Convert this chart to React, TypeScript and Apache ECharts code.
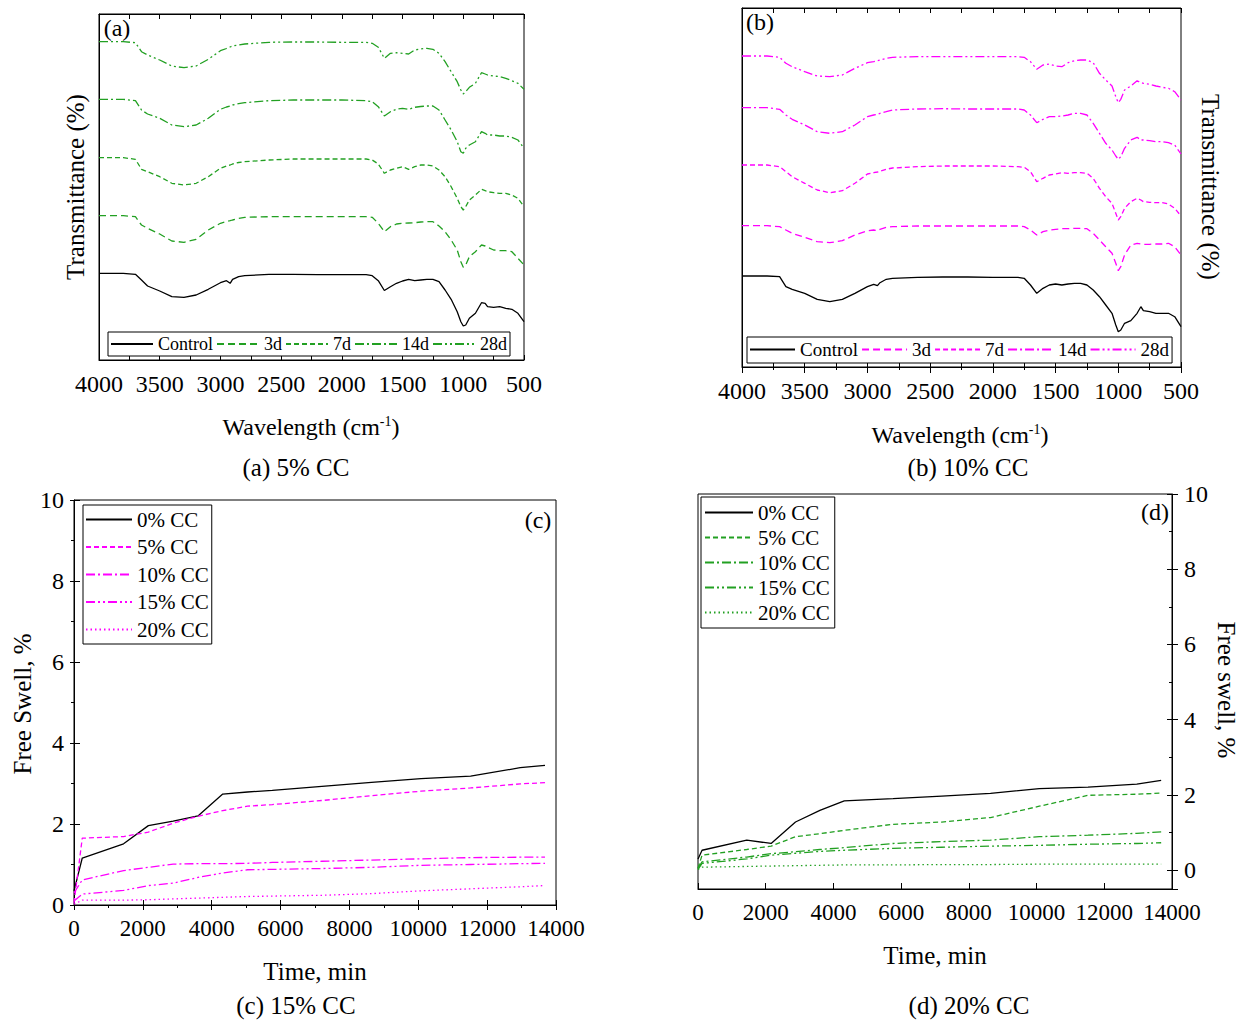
import React, { useEffect, useRef } from "react";
import * as echarts from "echarts";

const FONT = '"Liberation Serif", "Times New Roman", serif';
const GREEN = "#22a022";
const MAGENTA = "#ff00ff";

// ---- FTIR spectra (wavenumber grid, cm-1) ----
const WAVENUMBERS = [4000, 3800, 3700, 3650, 3600, 3500, 3400, 3300, 3200, 3100, 3000, 2950, 2920, 2900, 2850, 2800, 2600, 2400, 2200, 2000, 1800, 1750, 1700, 1650, 1600, 1550, 1500, 1450, 1400, 1350, 1300, 1250, 1200, 1150, 1100, 1050, 1020, 1000, 980, 950, 900, 850, 820, 800, 750, 700, 650, 600, 550, 500];
const SPECTRUM_NAMES = ["Control", "3d", "7d", "14d", "28d"];

// (a) 5% CC, transmittance (a.u., offset)
const A_CONTROL = [86.7, 86.7, 85.7, 80, 74, 69, 63.3, 62.7, 65, 70.7, 77.3, 79.3, 76.7, 80.7, 83.3, 84.3, 85.7, 85.7, 85.3, 85.3, 85.3, 84.3, 79.3, 69.5, 73.3, 76.7, 79, 80.7, 79.3, 80, 80.7, 80.7, 78.3, 70, 60.7, 48.3, 38.3, 34, 35, 41.7, 46.7, 57.3, 56.7, 53.3, 52.7, 53.3, 51.7, 50.7, 46.7, 38.3];
const A_3D = [144.3, 144.3, 143.3, 135, 131.7, 126, 119, 117.7, 120.7, 130, 136.7, 138.5, 139.3, 140, 141.5, 142.7, 143.3, 143.3, 143.3, 143.3, 143.3, 142.7, 136.7, 128.3, 133.3, 136, 136.7, 137, 137.3, 138, 138.3, 138.3, 134, 128.3, 120, 110, 98.3, 92.7, 95, 103.3, 108.3, 115, 114, 112.7, 110, 109.3, 109.3, 108.3, 101.7, 95];
const A_7D = [202.3, 202.3, 200.7, 190.7, 188.3, 183.3, 176.7, 175, 176.7, 183.3, 191.7, 194, 195, 196, 197.5, 198.3, 200, 201, 201, 201, 201, 200, 196, 186.7, 190, 191.7, 193.3, 190.7, 193.3, 195, 195, 194, 190, 183.3, 173.3, 161.7, 153.3, 150, 153.3, 160, 165, 170.7, 169.3, 168.3, 167.3, 166.7, 166.7, 165, 161.7, 153.3];
const A_14D = [260.7, 260.7, 259.3, 250, 246, 241.7, 235, 233.3, 235, 241.7, 250.7, 253, 254, 255, 256.3, 257.3, 259.3, 260, 260, 260, 259.3, 258.3, 253.3, 244, 248.3, 250.7, 251.7, 250.7, 252.7, 253.5, 254, 254, 250, 240, 230, 218.3, 208.3, 206.7, 211.7, 215, 218.3, 228.3, 226.7, 225, 225, 224, 224, 222.7, 220, 211.7];
const A_28D = [318.3, 318.3, 317.3, 308.3, 305, 300, 294, 292.3, 294, 300.7, 309.3, 311.5, 313, 314, 315, 316, 317.7, 318, 318, 317.7, 317.7, 316.7, 312.7, 301.7, 306.7, 307.3, 306.7, 306, 310, 311, 311.7, 310.7, 306.7, 298.3, 288.3, 278.3, 270, 266, 268.3, 272.7, 276.7, 287.3, 286, 285, 284, 283.3, 281.7, 279.3, 276.7, 270.7];

// (b) 10% CC
const B_CONTROL = [91, 91, 90.3, 80.3, 77.7, 73.7, 67.7, 65.3, 67.7, 73.7, 80.3, 82.7, 81.3, 84.3, 87.7, 88.7, 89.7, 90, 90, 89.7, 89.7, 88.7, 82, 73.7, 78.7, 82, 83, 82, 83, 83.7, 83.7, 82, 77, 70.3, 62, 53.7, 42, 35.3, 37, 43.7, 46.3, 53.7, 60.3, 56.3, 55.3, 53.7, 53.7, 53.7, 50.3, 40.3];
const B_3D = [141.3, 141.3, 140.3, 137, 133.7, 129.7, 125.3, 124.3, 126.3, 132, 136.3, 137, 136.3, 137.7, 139.7, 140.3, 141, 141, 141, 141, 141, 140.3, 137, 132, 135.3, 137, 137.7, 138.3, 138.3, 138.7, 138.7, 138.3, 133.7, 127, 120.3, 113.7, 103.7, 96.3, 100.3, 112, 122, 123.7, 123, 122.7, 122.7, 123, 123, 123.7, 120.3, 112];
const B_7D = [202, 202, 200.3, 195.3, 190.3, 183.7, 177, 174.3, 176.3, 183.7, 193, 194.3, 195, 195.7, 197.7, 199, 200.3, 201, 201, 201, 200.3, 199.7, 195.3, 185.3, 188.7, 192, 193, 194.3, 193.7, 194.3, 194.3, 193.7, 188.7, 178.7, 170.3, 163.7, 153.7, 147, 150.3, 158.7, 165.3, 168.7, 167, 165.3, 164.7, 164.3, 164.3, 163, 158.7, 151];
const B_14D = [259.3, 259.3, 257.7, 252, 247.7, 242, 235.3, 233.7, 235.3, 242, 250.3, 252, 252.7, 253.7, 255.3, 257, 258, 258.3, 258, 258, 258, 257, 252, 244.3, 247.7, 250.3, 250.3, 251, 252, 253.7, 253.7, 252, 243.7, 233.7, 223.7, 217, 211, 207.7, 210.3, 218.7, 227, 229.7, 227, 227, 226.3, 225.3, 225.3, 224.3, 222, 213];
const B_28D = [311, 311, 309.7, 303.7, 300.3, 295.3, 291, 290.3, 292, 298.7, 304.3, 305.3, 306.3, 307, 308.7, 309.7, 310.3, 310.3, 310.3, 310.3, 310.3, 309.7, 305.3, 297.7, 302, 303, 301, 300.3, 304.3, 306.3, 307, 307, 304.3, 293.7, 287, 281, 270.3, 264.3, 267.7, 277, 281, 286.3, 284.3, 283.7, 282.7, 281, 279.7, 278.7, 275.3, 267];

// ---- Free swell ----
const SWELL_NAMES = ["0% CC", "5% CC", "10% CC", "15% CC", "20% CC"];
const C_TIME = [0, 240, 1440, 2160, 2880, 3600, 4320, 5040, 5760, 7200, 8640, 10080, 11520, 12960, 13680];
const C_0 = [0.35, 1.16, 1.51, 1.96, 2.07, 2.2, 2.74, 2.79, 2.83, 2.93, 3.03, 3.12, 3.18, 3.39, 3.45];
const C_5 = [0.05, 1.65, 1.69, 1.8, 2.02, 2.19, 2.33, 2.44, 2.48, 2.58, 2.7, 2.81, 2.89, 2.99, 3.02];
const C_10 = [0.3, 0.62, 0.85, 0.93, 1.01, 1.02, 1.02, 1.03, 1.05, 1.08, 1.11, 1.14, 1.17, 1.18, 1.18];
const C_15 = [0.1, 0.27, 0.36, 0.48, 0.54, 0.68, 0.79, 0.87, 0.88, 0.9, 0.93, 0.98, 1.0, 1.02, 1.03];
const C_20 = [0.02, 0.12, 0.12, 0.13, 0.15, 0.17, 0.19, 0.21, 0.22, 0.24, 0.28, 0.35, 0.4, 0.45, 0.48];

const D_TIME = [0, 120, 1440, 2160, 2880, 3600, 4320, 5760, 7200, 8640, 10080, 11520, 12960, 13680];
const D_0 = [0.3, 0.53, 0.8, 0.71, 1.28, 1.59, 1.84, 1.9, 1.97, 2.04, 2.17, 2.21, 2.29, 2.39];
const D_5 = [0.05, 0.4, 0.55, 0.64, 0.89, 0.97, 1.06, 1.22, 1.28, 1.4, 1.7, 1.99, 2.02, 2.05];
const D_10 = [0.05, 0.22, 0.35, 0.44, 0.49, 0.55, 0.6, 0.71, 0.76, 0.8, 0.89, 0.93, 0.98, 1.02];
const D_15 = [0.02, 0.18, 0.3, 0.4, 0.45, 0.5, 0.53, 0.58, 0.61, 0.64, 0.66, 0.69, 0.71, 0.73];
const D_20 = [0.02, 0.08, 0.1, 0.11, 0.12, 0.13, 0.14, 0.14, 0.15, 0.15, 0.16, 0.16, 0.16, 0.16];

const DASHES: any[] = ["solid", [7, 4], [5, 3], [9, 3, 2, 3], [9, 3, 2, 3, 2, 3]];
const SWELL_DASHES: any[] = ["solid", [5, 3], [9, 3, 2, 3], [9, 3, 2, 3, 2, 3], [1.5, 3]];

function lineSeries(id: string, name: string, xs: number[], ys: number[], color: string, dash: any, xi: number, yi: number) {
  return {
    type: "line",
    name: id + "|" + name,
    xAxisIndex: xi,
    yAxisIndex: yi,
    data: xs.map((x, i) => [x, ys[i]]),
    symbol: "none",
    showSymbol: false,
    lineStyle: { color, width: 1.3, type: dash },
    itemStyle: { color },
    emphasis: { disabled: true },
  };
}

const black = { color: "#000", width: 1 };
const plain = (v: number) => String(v);

function App() {
  const ref = useRef<HTMLDivElement>(null);
  useEffect(() => {
    if (!ref.current) return;
    const chart = echarts.init(ref.current, null, { renderer: "svg" });

    const aSets = [A_CONTROL, A_3D, A_7D, A_14D, A_28D];
    const bSets = [B_CONTROL, B_3D, B_7D, B_14D, B_28D];
    const cSets = [C_0, C_5, C_10, C_15, C_20];
    const dSets = [D_0, D_5, D_10, D_15, D_20];

    const series: any[] = [];
    SPECTRUM_NAMES.forEach((n, i) =>
      series.push(lineSeries("a", n, WAVENUMBERS, aSets[i], i === 0 ? "#000" : GREEN, DASHES[i], 0, 0))
    );
    SPECTRUM_NAMES.forEach((n, i) =>
      series.push(lineSeries("b", n, WAVENUMBERS, bSets[i], i === 0 ? "#000" : MAGENTA, DASHES[i], 2, 1))
    );
    SWELL_NAMES.forEach((n, i) =>
      series.push(lineSeries("c", n, C_TIME, cSets[i], i === 0 ? "#000" : MAGENTA, SWELL_DASHES[i], 5, 2))
    );
    SWELL_NAMES.forEach((n, i) =>
      series.push(lineSeries("d", n, D_TIME, dSets[i], i === 0 ? "#000" : GREEN, SWELL_DASHES[i], 7, 4))
    );

    const noSplit = { show: false };
    const lbl = (size: number, margin: number, extra: any = {}) => ({
      fontSize: size,
      fontFamily: FONT,
      color: "#000",
      margin,
      formatter: plain,
      ...extra,
    });
    const off = { show: false };

    const xAxis: any[] = [
      // (a)
      { gridIndex: 0, type: "value", min: 500, max: 4000, inverse: true, interval: 250, position: "bottom",
        axisLine: { onZero: false, lineStyle: black }, axisTick: { inside: true, length: 5, lineStyle: black },
        axisLabel: lbl(24, 12, { formatter: (v: number) => (v % 500 === 0 ? String(v) : "") }), splitLine: noSplit },
      { gridIndex: 0, type: "value", min: 500, max: 4000, inverse: true, interval: 250, position: "top",
        axisLine: { onZero: false, lineStyle: black }, axisTick: { inside: true, length: 5, lineStyle: black },
        axisLabel: off, splitLine: noSplit },
      // (b)
      { gridIndex: 1, type: "value", min: 500, max: 4000, inverse: true, interval: 500, position: "bottom",
        axisLine: { onZero: false, lineStyle: black }, axisTick: { inside: false, length: 6, lineStyle: black },
        minorTick: { show: true, splitNumber: 2, length: 3, lineStyle: black },
        axisLabel: lbl(24, 12), splitLine: noSplit, minorSplitLine: noSplit },
      { gridIndex: 1, type: "value", min: 500, max: 4000, inverse: true, interval: 250, position: "bottom",
        axisLine: { show: false, onZero: false }, axisTick: { inside: true, length: 5, lineStyle: black },
        axisLabel: off, splitLine: noSplit },
      { gridIndex: 1, type: "value", min: 500, max: 4000, inverse: true, interval: 250, position: "top",
        axisLine: { onZero: false, lineStyle: black }, axisTick: { inside: true, length: 5, lineStyle: black },
        axisLabel: off, splitLine: noSplit },
      // (c)
      { gridIndex: 2, type: "value", min: 0, max: 14000, interval: 2000, position: "bottom",
        axisLine: { onZero: false, lineStyle: black }, axisTick: { inside: false, length: 5, lineStyle: black },
        minorTick: { show: true, splitNumber: 2, length: 3, lineStyle: black },
        axisLabel: lbl(23, 12), splitLine: noSplit, minorSplitLine: noSplit },
      { gridIndex: 2, type: "value", min: 0, max: 14000, interval: 2000, position: "bottom",
        axisLine: { show: false, onZero: false }, axisTick: { inside: true, length: 5, lineStyle: black },
        axisLabel: off, splitLine: noSplit },
      // (d)
      { gridIndex: 3, type: "value", min: 0, max: 14000, interval: 2000, position: "bottom",
        axisLine: { onZero: false, lineStyle: black }, axisTick: { inside: true, length: 6, lineStyle: black },
        axisLabel: lbl(23, 12), splitLine: noSplit },
    ];

    const yAxis: any[] = [
      { gridIndex: 0, type: "value", min: 0, max: 346, position: "left",
        axisLine: { onZero: false, lineStyle: black }, axisTick: off, axisLabel: off, splitLine: noSplit },
      { gridIndex: 1, type: "value", min: 0, max: 359, position: "left",
        axisLine: { onZero: false, lineStyle: black }, axisTick: off, axisLabel: off, splitLine: noSplit },
      { gridIndex: 2, type: "value", min: 0, max: 10, interval: 2, position: "left",
        axisLine: { onZero: false, lineStyle: black }, axisTick: { inside: false, length: 4, lineStyle: black },
        minorTick: { show: true, splitNumber: 2, length: 3, lineStyle: black },
        axisLabel: lbl(24, 10), splitLine: noSplit, minorSplitLine: noSplit },
      { gridIndex: 2, type: "value", min: 0, max: 10, interval: 2, position: "left",
        axisLine: { show: false, onZero: false }, axisTick: { inside: true, length: 6, lineStyle: black },
        axisLabel: off, splitLine: noSplit },
      { gridIndex: 3, type: "value", min: -0.5, max: 10, splitNumber: 5, position: "right",
        axisLine: { onZero: false, lineStyle: black }, axisTick: { inside: false, length: 6, lineStyle: black },
        axisLabel: lbl(24, 12, { formatter: (v: number) => (v < 0 ? "" : String(v)) }), splitLine: noSplit },
      { gridIndex: 3, type: "value", min: -0.5, max: 10, splitNumber: 5, position: "right",
        axisLine: { show: false, onZero: false }, axisTick: { inside: true, length: 5, lineStyle: black },
        minorTick: { show: true, splitNumber: 2, length: 3, lineStyle: black },
        axisLabel: off, splitLine: noSplit, minorSplitLine: noSplit },
    ];

    const gridBox = { show: true, borderColor: "#000", borderWidth: 1, backgroundColor: "transparent", containLabel: false };
    const grid = [
      { left: 99, top: 14, width: 425, height: 346, ...gridBox },
      { left: 742, top: 8, width: 439, height: 359, ...gridBox },
      { left: 74, top: 500, width: 482, height: 405, ...gridBox },
      { left: 698, top: 494, width: 474, height: 395, ...gridBox },
    ];

    const fmt = (n: string) => n.split("|")[1];
    const legBase = {
      selectedMode: false,
      borderColor: "#000",
      borderWidth: 1,
      formatter: fmt,
      backgroundColor: "#fff",
      itemStyle: { opacity: 0, borderWidth: 0 },
    };
    const legend = [
      { ...legBase, data: SPECTRUM_NAMES.map((n) => "a|" + n), left: 108, top: 332, orient: "horizontal",
        itemWidth: 42, itemHeight: 12, itemGap: 3, padding: [3, 3, 3, 2],
        textStyle: { fontSize: 18, color: "#000", fontFamily: FONT } },
      { ...legBase, data: SPECTRUM_NAMES.map((n) => "b|" + n), left: 747, top: 337, orient: "horizontal",
        itemWidth: 45, itemHeight: 12, itemGap: 3, padding: [3, 3, 4, 2],
        textStyle: { fontSize: 19, color: "#000", fontFamily: FONT } },
      { ...legBase, data: SWELL_NAMES.map((n) => "c|" + n), left: 83, top: 505, orient: "vertical",
        itemWidth: 46, itemHeight: 14, itemGap: 6.5, padding: [4, 3, 4, 2],
        textStyle: { fontSize: 21, color: "#000", fontFamily: FONT } },
      { ...legBase, data: SWELL_NAMES.map((n) => "d|" + n), left: 701, top: 497, orient: "vertical",
        itemWidth: 48, itemHeight: 14, itemGap: 4, padding: [5, 5, 5, 3],
        textStyle: { fontSize: 21, color: "#000", fontFamily: FONT } },
    ];

    const txt = (text: string, x: number, y: number, size: number, rotation = 0, extra: any = {}) => ({
      type: "text",
      x,
      y,
      rotation,
      silent: true,
      style: { text, fontSize: size, fontFamily: FONT, fill: "#000", align: "center", verticalAlign: "middle", ...extra },
    });
    const wl = (x: number, y: number) =>
      txt("{n|Wavelength (cm}{s|-1}{n|)}", x, y, 24, 0, {
        rich: {
          n: { fontSize: 24, fontFamily: FONT, fill: "#000", lineHeight: 26 },
          s: { fontSize: 14, fontFamily: FONT, fill: "#000", lineHeight: 26, verticalAlign: "top" },
        },
      });

    const graphic = [
      txt("(a)", 117, 28, 24),
      txt("(b)", 760, 22, 24),
      txt("(c)", 538, 520, 24),
      txt("(d)", 1155, 512, 24),
      txt("Transmittance (%)", 75, 187, 25, Math.PI / 2),
      txt("Transmittance (%)", 1210, 187, 25, -Math.PI / 2),
      wl(311, 427),
      wl(960, 435),
      txt("(a) 5% CC", 296, 467, 25),
      txt("(b) 10% CC", 968, 467, 25),
      txt("Time, min", 315, 971, 25),
      txt("Time, min", 935, 955, 25),
      txt("(c) 15% CC", 296, 1005, 25),
      txt("(d) 20% CC", 969, 1005, 25),
      txt("Free Swell, %", 22, 704, 25, Math.PI / 2),
      txt("Free swell, %", 1226, 690, 25, -Math.PI / 2),
    ];

    chart.setOption({
      animation: false,
      backgroundColor: "#fff",
      textStyle: { fontFamily: FONT },
      grid,
      xAxis,
      yAxis,
      legend,
      series,
      graphic,
    });
    return () => chart.dispose();
  }, []);
  return (
    <div
      ref={ref}
      style={{ position: "fixed", left: 0, top: 0, width: 1246, height: 1021, background: "#fff" }}
    />
  );
}

export default App;
